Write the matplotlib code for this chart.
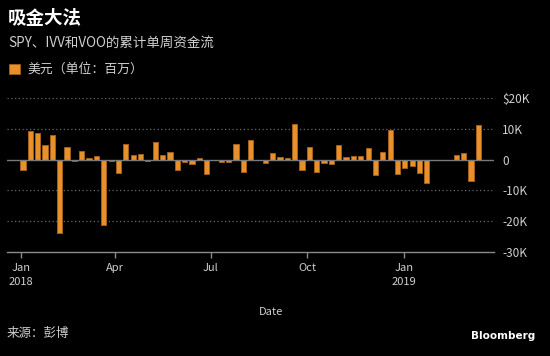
import matplotlib
matplotlib.use("Agg")
import matplotlib.pyplot as plt
import matplotlib.dates as mdates
import numpy as np
import pandas as pd

plt.rcParams['font.family'] = ['Noto Sans CJK SC', 'DejaVu Sans']

# Weekly net flows (USD millions)
start_date = "2018-01-03"
flows = [
    -3500, 9300, 8500, 4600, 7900, -23600, 4000, -400, 2900, 400,
    1300, -21100, -400, -4300, 4900, 1500, 1700, -400, 5700, 1500,
    2600, -3300, -700, -1300, 400, -4700, -200, -700, -700, 4900,
    -4000, 6200, -200, -1000, 2100, 900, 400, 11500, -3300, 4000,
    -4000, -1000, -1500, 4600, 700, 1300, 1300, 3700, -5100, 2400,
    9600, -4600, -2600, -2100, -4200, -7600, -300, -300, -100, 1600,
    2000, -6800, 11100,
]
dates = pd.date_range(start_date, periods=len(flows), freq="7D")

yticks = [-30000, -20000, -10000, 0, 10000, 20000]
ytick_labels = ["-30K", "-20K", "-10K", "0", "10K", "$20K"]
xtick_dates = pd.to_datetime(["2018-01-01", "2018-04-01", "2018-07-01", "2018-10-01", "2019-01-01"])
xtick_labels = ["Jan\n2018", "Apr", "Jul", "Oct", "Jan\n2019"]

title = "吸金大法"
subtitle = "SPY、IVV和VOO的累计单周资金流"
legend_label = "美元（单位：百万）"
source = "来源：彭博"

BG = "black"
ORANGE = "#e8912a"
EDGE = "#a8641c"
TXT = "#cfcfcf"
GRID = "#6a6a6a"

fig = plt.figure(figsize=(5.5, 3.56), dpi=100, facecolor=BG)
ax = fig.add_axes([7.3 / 550, 1 - 252.3 / 356, (494 - 7.3) / 550, (252.3 - 97.7) / 356])
ax.set_facecolor(BG)

ax.bar(dates, flows, width=5.0, color=ORANGE, edgecolor=EDGE, linewidth=0.6, zorder=3)

ax.set_ylim(-30000, 20000)
ax.set_xlim(pd.Timestamp("2017-12-19"), pd.Timestamp("2019-03-28"))

for v in [-20000, -10000, 10000, 20000]:
    ax.axhline(v, color=GRID, linestyle=(0, (1, 2)), linewidth=0.9, zorder=1)
ax.axhline(0, color="#7a7a7a", linewidth=1.0, zorder=4)

for s in ["top", "left", "right"]:
    ax.spines[s].set_visible(False)
ax.spines["bottom"].set_color("#8a8a8a")
ax.spines["bottom"].set_linewidth(1.0)

ax.yaxis.tick_right()
ax.set_yticks(yticks)
ax.set_yticklabels(ytick_labels)
ax.tick_params(axis="y", length=0, pad=6, labelcolor=TXT, labelsize=8.5)
for lab in ax.get_yticklabels():
    lab.set_horizontalalignment("left")

ax.set_xticks(xtick_dates)
ax.set_xticklabels(xtick_labels, linespacing=1.5)
ax.tick_params(axis="x", direction="out", length=4, width=1, color="#8a8a8a",
               labelcolor=TXT, labelsize=8, pad=4)

fig.text(8 / 550, 1 - 19 / 356, title, color="white", fontsize=13.3, fontweight="bold",
         va="center", ha="left")
fig.text(8 / 550, 1 - 43 / 356, subtitle, color=TXT, fontsize=9.7, va="center", ha="left")
fig.patches.append(plt.Rectangle((8.5 / 550, 1 - 74 / 356), 11 / 550, 10 / 356,
                                 transform=fig.transFigure, facecolor=ORANGE,
                                 edgecolor=EDGE, linewidth=0.5))
fig.text(27 / 550, 1 - 69 / 356, legend_label, color=TXT, fontsize=9.3, va="center", ha="left")
fig.text(271 / 550, 1 - 312 / 356, "Date", color=TXT, fontsize=8, va="center", ha="center")
fig.text(7 / 550, 1 - 333 / 356, source, color=TXT, fontsize=9, va="center", ha="left")
fig.text(535 / 550, 1 - 336 / 356, "Bloomberg", color="white", fontsize=7.5,
         fontweight="bold", va="center", ha="right", family=["DejaVu Sans"])

fig.savefig("out.png", dpi=100, facecolor=BG)
